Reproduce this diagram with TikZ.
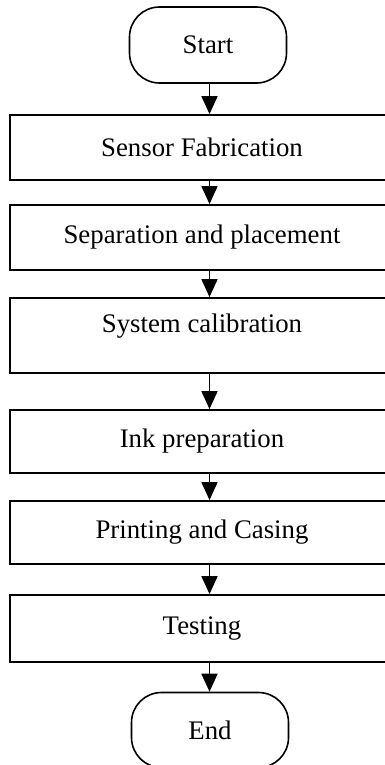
\documentclass[tikz,border=0pt]{standalone}
\usepackage{fontspec}
\setmainfont{Liberation Serif}
\usetikzlibrary{arrows.meta}
\tikzset{
	stepbox/.style={draw,line width=1.8pt,minimum width=384pt,minimum height=65pt,inner sep=0pt},
	termbox/.style={draw,line width=1.6pt,rounded corners=30pt,minimum width=157pt,minimum height=76pt,inner sep=0pt},
	arr/.style={-{Triangle[width=16pt,length=18pt]},line width=1.8pt}
}
\begin{document}
\begin{tikzpicture}[x=1pt,y=1pt,font=\fontsize{26.8}{32}\selectfont]
					\useasboundingbox (0,0) rectangle (384,-765);
					\node[termbox] (start) at (208,-45) {Start};
					\node[stepbox] (fab) at (202,-147.5) {Sensor Fabrication};
					\node[stepbox] (sep) at (202,-237.5) {Separation and placement};
					\node[stepbox,minimum height=75pt,text depth=24pt] (cal) at (202,-335.5) {System calibration};
					\node[stepbox,minimum height=63pt] (ink) at (202,-441.5) {Ink preparation};
					\node[stepbox,minimum height=63pt] (print) at (202,-532.5) {Printing and Casing};
					\node[stepbox,minimum height=67pt] (test) at (202,-628.5) {Testing};
					\node[termbox,minimum height=75pt] (end) at (210,-730) {End};
					\coordinate (axis) at (209.5,0);
					\draw[arr] (start.south -| axis) -- (fab.north -| axis);
					\draw[arr] (fab.south -| axis) -- (sep.north -| axis);
					\draw[arr] (sep.south -| axis) -- (cal.north -| axis);
					\draw[arr] (cal.south -| axis) -- (ink.north -| axis);
					\draw[arr] (ink.south -| axis) -- (print.north -| axis);
					\draw[arr] (print.south -| axis) -- (test.north -| axis);
					\draw[arr] (test.south -| axis) -- (end.north -| axis);
				\end{tikzpicture}
\end{document}
